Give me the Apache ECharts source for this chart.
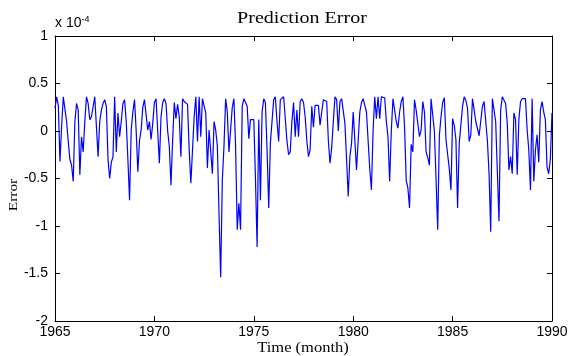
<!DOCTYPE html>
<html>
<head>
<meta charset="utf-8">
<script src="https://cdn.jsdelivr.net/npm/echarts@6/dist/echarts.min.js"></script>
<style>
  html, body { margin: 0; padding: 0; background: #fff; }
  #chart { width: 571px; height: 356px; }
</style>
</head>
<body>
<div id="chart"></div>
<script>
// Monthly prediction error, in units of 1e-4, starting January 1965.
const err1965 = [0.24, 0.36, 0.27, -0.32, 0.05, 0.36, 0.35, 0.1, -0.11, -0.3, -0.36, -0.53,
  0.1, 0.29, 0.22, -0.46, -0.06, -0.22, 0.1, 0.36, 0.29, 0.12, 0.15, 0.15,
  0.36, 0.34, -0.27, 0.1, 0.22, 0.29, 0.33, 0.26, -0.3, -0.5, -0.33, -0.27,
  0.36, -0.22, 0.19, -0.06, 0.1, 0.29, 0.33, 0.1, -0.3, -0.73, 0.01, 0.2,
  0.33, 0.0, -0.43, -0.1, 0.01, 0.25, 0.33, 0.33, 0.01, 0.1, -0.09, 0.08];
const err1970 = [0.3, 0.34, 0.34, -0.34, 0.15, 0.3, 0.34, 0.29, 0.0, -0.16, -0.57, -0.1,
  0.3, 0.13, 0.28, 0.15, -0.27, 0.34, 0.31, 0.29, 0.28, -0.2, -0.55, -0.2,
  0.15, 0.36, -0.11, 0.36, -0.06, 0.34, 0.33, 0.19, -0.39, 0.01, 0.01, -0.45,
  0.1, 0.01, -0.16, -0.87, -1.54, -0.52, -0.16, 0.34, 0.2, -0.22, 0.01, 0.25,
  0.34, -0.16, -1.04, -0.76, -1.04, 0.26, 0.34, 0.35, 0.26, -0.08, 0.12, 0.12];
const err1975 = [0.12, -0.5, -1.22, 0.12, -0.73, 0.2, 0.34, 0.3, -0.2, -0.81, -0.13, 0.1,
  0.33, 0.36, 0.1, -0.11, 0.33, 0.34, 0.36, 0.35, -0.1, -0.25, -0.22, 0.1,
  0.3, -0.06, 0.22, -0.06, 0.31, 0.34, 0.3, 0.15, -0.1, -0.27, -0.2, 0.26,
  0.04, 0.27, 0.27, 0.27, 0.06, 0.2, 0.33, 0.33, 0.31, -0.1, -0.34, -0.18,
  0.1, 0.36, 0.33, 0.0, 0.31, 0.34, 0.36, 0.08, -0.3, -0.69, -0.27, -0.13];
const err1980 = [0.2, -0.1, -0.41, -0.1, 0.2, 0.3, 0.34, 0.33, 0.2, -0.1, -0.4, -0.62,
  0.0, 0.36, 0.13, 0.36, 0.13, 0.36, 0.36, 0.35, 0.1, -0.06, -0.53, 0.0,
  0.34, 0.33, 0.1, 0.03, 0.2, 0.31, 0.36, 0.04, -0.52, -0.6, -0.81, -0.14,
  -0.22, 0.33, 0.22, 0.2, -0.06, 0.01, 0.31, 0.2, -0.22, -0.28, -0.36, 0.34,
  0.34, 0.0, -0.5, -1.04, -0.05, 0.15, 0.3, 0.35, -0.09, -0.11, -0.4, -0.62];
const err1985 = [0.13, 0.06, -0.09, -0.81, -0.13, -0.11, 0.26, 0.36, 0.32, 0.24, -0.11, -0.04,
  0.34, 0.34, 0.1, 0.08, -0.05, -0.06, 0.26, 0.31, 0.1, -0.1, -0.45, -1.06,
  0.34, 0.34, 0.1, 0.1, -0.95, 0.22, 0.36, 0.34, 0.29, 0.08, -0.41, -0.27,
  -0.45, 0.19, 0.12, -0.46, 0.12, 0.31, 0.34, 0.36, 0.34, 0.01, -0.2, -0.62,
  0.34, -0.53, -0.2, -0.04, -0.33, 0.22, 0.31, 0.2, 0.12, -0.38, -0.45, -0.3];
const err1990 = [0.19];

const startYear = 1965;
const yearTicks = [1965, 1970, 1975, 1980, 1985, 1990];
const errorTicks = [-2, -1.5, -1, -0.5, 0, 0.5, 1];

const errors = [].concat(err1965, err1970, err1975, err1980, err1985, err1990);
const seriesData = errors.map((v, i) => [startYear + i / 12, v]);

const sans = 'Liberation Sans, Arial, sans-serif';
const serif = 'Liberation Serif, Times New Roman, serif';

const baseX = {
  type: 'value',
  min: yearTicks[0],
  max: yearTicks[yearTicks.length - 1],
  interval: 5,
  splitLine: { show: false },
  axisLine: { show: true, onZero: false, lineStyle: { color: '#000', width: 1 } },
  axisTick: { show: true, inside: true, length: 5, lineStyle: { color: '#000' } }
};
const baseY = {
  type: 'value',
  min: errorTicks[0],
  max: errorTicks[errorTicks.length - 1],
  interval: 0.5,
  splitLine: { show: false },
  axisLine: { show: true, onZero: false, lineStyle: { color: '#000', width: 1 } },
  axisTick: { show: true, inside: true, length: 5, lineStyle: { color: '#000' } }
};

// Serif captions are drawn slightly widened, like the original plot's typeface.
function caption(text, x, y, size, rotation) {
  return {
    type: 'text',
    x: x, y: y,
    rotation: rotation || 0,
    scaleX: 1.18,
    silent: true,
    style: {
      text: text,
      fontFamily: serif,
      fontSize: size,
      fill: '#000',
      align: 'center',
      verticalAlign: 'middle'
    }
  };
}

const chart = echarts.init(document.getElementById('chart'), null, { renderer: 'canvas' });
chart.setOption({
  animation: false,
  backgroundColor: '#fff',
  grid: { left: 55, right: 19, top: 36, bottom: 35, containLabel: false, outerBoundsMode: 'none' },
  xAxis: [
    Object.assign({}, baseX, {
      position: 'bottom',
      axisLabel: {
        show: true, margin: 4, fontFamily: sans, fontSize: 14, color: '#000',
        formatter: (v) => String(v)
      }
    }),
    Object.assign({}, baseX, { position: 'top', axisLabel: { show: false } })
  ],
  yAxis: [
    Object.assign({}, baseY, {
      position: 'left',
      axisLabel: { show: true, margin: 7, fontFamily: sans, fontSize: 14, color: '#000' }
    }),
    Object.assign({}, baseY, { position: 'right', axisLabel: { show: false } })
  ],
  graphic: [
    caption('Prediction Error', 302, 19, 17),
    caption('Time (month)', 303, 348, 14),
    caption('Error', 14, 195, 13, Math.PI / 2),
    {
      type: 'text',
      x: 55,
      y: 15,
      silent: true,
      style: {
        text: 'x 10{sup|-4}',
        fontFamily: sans,
        fontSize: 14,
        fill: '#000',
        rich: { sup: { fontFamily: sans, fontSize: 9, verticalAlign: 'top', padding: [0, 0, 8, 0] } }
      }
    }
  ],
  series: [{
    type: 'line',
    xAxisIndex: 0,
    yAxisIndex: 0,
    data: seriesData,
    showSymbol: false,
    lineStyle: { color: '#0000ff', width: 1.2 },
    clip: true
  }]
});
</script>
</body>
</html>
